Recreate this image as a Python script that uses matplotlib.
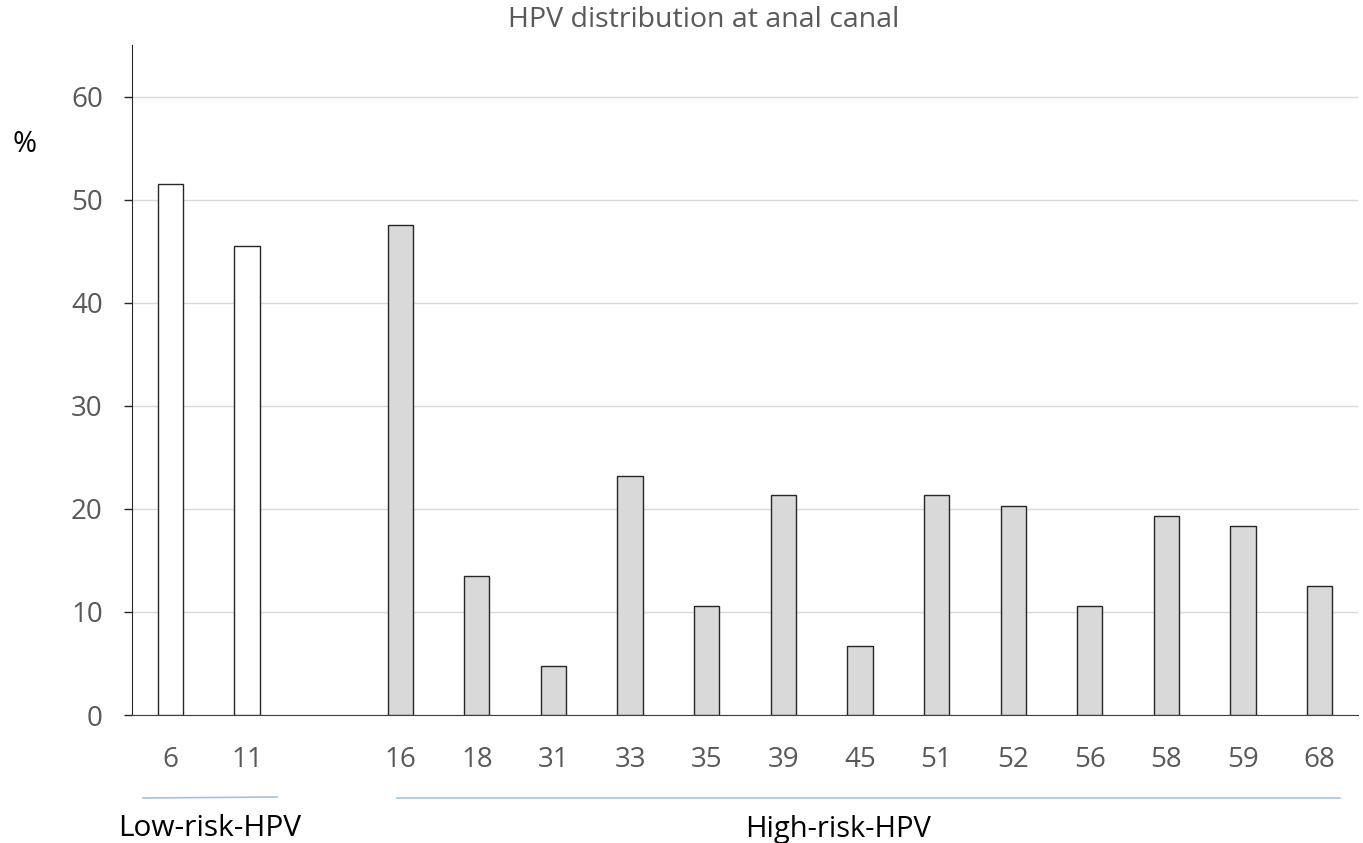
import matplotlib.pyplot as plt
import numpy as np

plt.rcParams['font.family'] = ['Open Sans', 'DejaVu Sans']

# HPV types and prevalence (%), with an empty slot between the two groups
types = ['6', '11', '', '16', '18', '31', '33', '35', '39', '45', '51', '52', '56', '58', '59', '68']
values = [51.5, 45.5, 0, 47.5, 13.5, 4.8, 23.2, 10.6, 21.3, 6.7, 21.3, 20.3, 10.6, 19.3, 18.3, 12.5]
low_risk = ['6', '11']
group_names = ['Low-risk-HPV', 'High-risk-HPV']

fig = plt.figure(figsize=(13.63, 8.43), dpi=100)
ax = fig.add_axes([132/1363, 128/843, (1358-132)/1363, (715-45)/843])

x = np.arange(len(types))
for i, (t, v) in enumerate(zip(types, values)):
    if t == '':
        continue
    fc = 'white' if t in low_risk else '#d9d9d9'
    ax.bar(x[i], v, width=0.33, color=fc, edgecolor='#262626', linewidth=1.0, zorder=3)

ax.set_xlim(-0.5, len(types) - 0.5)
ax.set_ylim(0, 65)
ax.set_yticks(range(0, 61, 10))
ax.yaxis.grid(True, color='#d9d9d9', linewidth=1.0, zorder=0)
ax.set_axisbelow(True)
ax.set_xticks(x)
ax.set_xticklabels(types)
ax.tick_params(axis='x', length=0, pad=22, labelsize=20, labelcolor='#595959')
ax.tick_params(axis='y', length=6, width=1, color='#262626', pad=15, labelsize=20, labelcolor='#595959')
for s in ['top', 'right']:
    ax.spines[s].set_visible(False)
ax.spines['left'].set_color('#262626')
ax.spines['bottom'].set_color('#404040')

fig.text(704/1363, 1 - 20/843, 'HPV distribution at anal canal', ha='center', va='center',
         fontsize=20.5, color='#595959')
fig.text(25/1363, 1 - 145/843, '%', ha='center', va='center', fontsize=21, color='black')

# group brackets under the tick labels
fig.add_artist(plt.Line2D([143/1363, 277/1363], [1 - 798/843, 1 - 797/843], color='#9dc3e6', linewidth=1.2))
fig.add_artist(plt.Line2D([397/1363, 1340/1363], [1 - 798/843, 1 - 798/843], color='#9dc3e6', linewidth=1.2))
fig.text(210/1363, 1 - 829/843, group_names[0], ha='center', va='center', fontsize=21.5, color='black')
fig.text(838/1363, 1 - 829/843, group_names[1], ha='center', va='center', fontsize=21, color='black')

fig.savefig('out.png', dpi=100)
